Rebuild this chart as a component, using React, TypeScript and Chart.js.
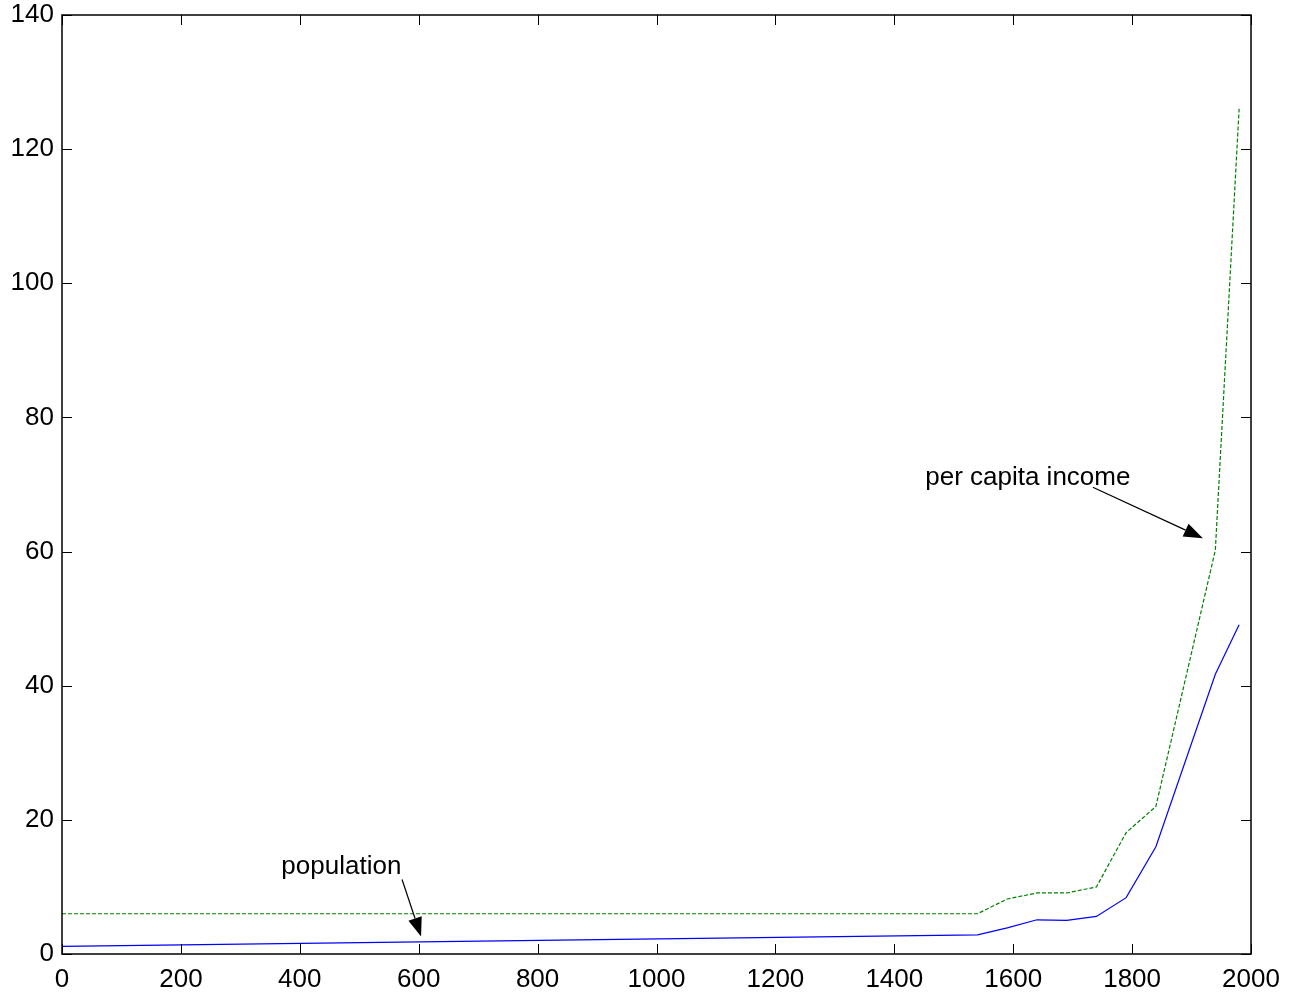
import React, { useEffect, useRef } from "react";
import { Chart, registerables } from "chart.js";

Chart.register(...registerables);

const years = [0, 1540, 1590, 1640, 1690, 1740, 1790, 1840, 1940, 1980];
const population = [1.15, 2.85, 3.9, 5.1, 5.0, 5.6, 8.4, 16.0, 41.7, 49.1];
const perCapitaIncome = [6, 6, 8.2, 9.1, 9.1, 10.0, 18.1, 22.0, 60.2, 126.0];
const xTicks = [0, 200, 400, 600, 800, 1000, 1200, 1400, 1600, 1800, 2000];
const yTicks = [0, 20, 40, 60, 80, 100, 120, 140];

const annotations = [
  { text: "per capita income", tx: 1452, ty: 71.0, ax0: 1734, ay0: 69.6, ax1: 1919, ay1: 62.0 },
  { text: "population", tx: 369, ty: 13.0, ax0: 572, ay0: 11.1, ax1: 604, ay1: 2.6 },
];

const FONT = "'Liberation Sans', Arial, sans-serif";

const framePlugin = {
  id: "frame",
  afterDatasetsDraw(chart: any) {
    const { ctx, chartArea: a, scales } = chart;
    const xs = scales.x;
    const ys = scales.y;
    ctx.save();
    ctx.strokeStyle = "#000";
    ctx.lineWidth = 1;
    const L = 10;
    ctx.beginPath();
    for (const v of xTicks) {
      const px = Math.round(xs.getPixelForValue(v)) + 0.5;
      ctx.moveTo(px, a.bottom);
      ctx.lineTo(px, a.bottom - L);
      ctx.moveTo(px, a.top);
      ctx.lineTo(px, a.top + L);
    }
    for (const v of yTicks) {
      const py = Math.round(ys.getPixelForValue(v)) + 0.5;
      ctx.moveTo(a.left, py);
      ctx.lineTo(a.left + L, py);
      ctx.moveTo(a.right, py);
      ctx.lineTo(a.right - L, py);
    }
    ctx.stroke();
    ctx.lineWidth = 1.5;
    ctx.strokeRect(a.left, a.top, a.right - a.left, a.bottom - a.top);

    ctx.font = `26px ${FONT}`;
    ctx.fillStyle = "#000";
    ctx.textBaseline = "middle";
    ctx.textAlign = "left";
    for (const an of annotations) {
      ctx.fillText(an.text, xs.getPixelForValue(an.tx), ys.getPixelForValue(an.ty));
      const x0 = xs.getPixelForValue(an.ax0);
      const y0 = ys.getPixelForValue(an.ay0);
      const x1 = xs.getPixelForValue(an.ax1);
      const y1 = ys.getPixelForValue(an.ay1);
      const ang = Math.atan2(y1 - y0, x1 - x0);
      const hl = 19;
      const hw = 7;
      const bx = x1 - hl * Math.cos(ang);
      const by = y1 - hl * Math.sin(ang);
      ctx.lineWidth = 1.2;
      ctx.beginPath();
      ctx.moveTo(x0, y0);
      ctx.lineTo(bx, by);
      ctx.stroke();
      ctx.beginPath();
      ctx.moveTo(x1, y1);
      ctx.lineTo(bx + hw * Math.sin(ang), by - hw * Math.cos(ang));
      ctx.lineTo(bx - hw * Math.sin(ang), by + hw * Math.cos(ang));
      ctx.closePath();
      ctx.fill();
    }
    ctx.restore();
  },
};

export default function App() {
  const ref = useRef<HTMLCanvasElement>(null);
  useEffect(() => {
    if (!ref.current) return;
    const chart = new Chart(ref.current, {
      type: "line",
      data: {
        datasets: [
          {
            label: "population",
            data: years.map((x, i) => ({ x, y: population[i] })),
            borderColor: "#0000ff",
            borderWidth: 1.2,
            pointRadius: 0,
            tension: 0,
          },
          {
            label: "per capita income",
            data: years.map((x, i) => ({ x, y: perCapitaIncome[i] })),
            borderColor: "#008000",
            borderWidth: 1.2,
            borderDash: [4, 2],
            pointRadius: 0,
            tension: 0,
          },
        ],
      },
      options: {
        animation: false,
        responsive: false,
        maintainAspectRatio: false,
        layout: { padding: { left: 0, top: 15, right: 50, bottom: 0 } },
        plugins: { legend: { display: false }, tooltip: { enabled: false } },
        scales: {
          x: {
            type: "linear",
            min: 0,
            max: 2000,
            afterFit: (s: any) => {
              s.height = 41;
              s.paddingLeft = 0;
              s.paddingRight = 0;
            },
            afterBuildTicks: (s: any) => {
              s.ticks = xTicks.map((v) => ({ value: v }));
            },
            grid: { display: false, drawTicks: false },
            border: { display: false },
            ticks: {
              padding: 10,
              color: "#000",
              font: { family: FONT, size: 26 },
              maxRotation: 0,
              autoSkip: false,
              callback: (v: any) => String(v),
            },
          },
          y: {
            type: "linear",
            min: 0,
            max: 140,
            afterFit: (s: any) => {
              s.width = 62;
              s.paddingTop = 0;
              s.paddingBottom = 0;
            },
            afterBuildTicks: (s: any) => {
              s.ticks = yTicks.map((v) => ({ value: v }));
            },
            grid: { display: false, drawTicks: false },
            border: { display: false },
            ticks: {
              padding: 8,
              color: "#000",
              font: { family: FONT, size: 26 },
              autoSkip: false,
              callback: (v: any) => String(v),
            },
          },
        },
      },
      plugins: [framePlugin],
    });
    return () => chart.destroy();
  }, []);
  return (
    <div style={{ position: "fixed", left: 0, top: 0, width: 1301, height: 995, background: "#fff" }}>
      <canvas ref={ref} width={1301} height={995} style={{ width: 1301, height: 995 }} />
    </div>
  );
}
